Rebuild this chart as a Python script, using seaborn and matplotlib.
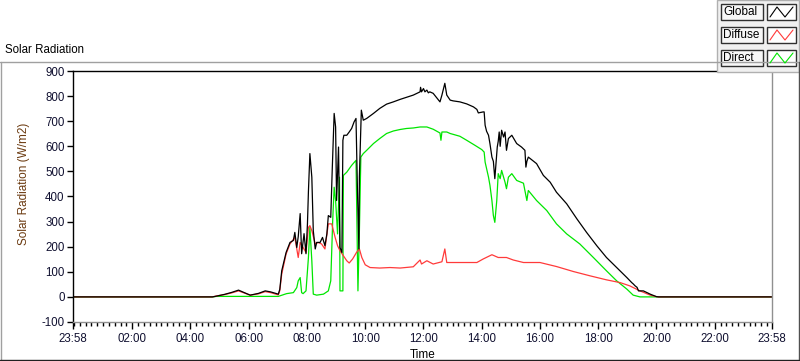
import matplotlib
matplotlib.use("Agg")
import matplotlib.pyplot as plt
from matplotlib.lines import Line2D
from matplotlib.patches import Rectangle
import numpy as np
import pandas as pd
import seaborn as sns

# ---- data ----
global_time = [
    "23:58", "04:45", "04:51", "05:10", "05:25", "05:39", "05:50", "06:03", "06:20", "06:34",
    "06:45", "07:01", "07:04", "07:08", "07:17", "07:25", "07:32", "07:35", "07:39", "07:42",
    "07:46", "07:49", "07:54", "07:58", "08:01", "08:03", "08:06", "08:10", "08:13", "08:17",
    "08:20", "08:27", "08:32", "08:37", "08:41", "08:44", "08:49", "08:52", "08:56", "08:59",
    "09:01", "09:05", "09:08", "09:12", "09:14", "09:16", "09:22", "09:27", "09:32", "09:37",
    "09:41", "09:44", "09:47", "09:48", "09:52", "09:56", "10:03", "10:17", "10:30", "10:44",
    "10:58", "11:12", "11:25", "11:39", "11:53", "11:54", "11:56", "12:00", "12:03", "12:07",
    "12:10", "12:13", "12:20", "12:34", "12:38", "12:44", "12:48", "12:55", "13:01", "13:15",
    "13:29", "13:43", "13:50", "13:53", "14:03", "14:05", "14:07", "14:10", "14:14", "14:17",
    "14:21", "14:24", "14:27", "14:29", "14:32", "14:34", "14:36", "14:38", "14:41", "14:45",
    "14:48", "14:51", "14:55", "15:02", "15:12", "15:22", "15:29", "15:31", "15:33", "15:36",
    "15:53", "16:07", "16:21", "16:34", "16:55", "17:16", "17:36", "17:57", "18:17", "18:38",
    "18:59", "19:09", "19:12", "19:16", "19:20", "19:23", "19:33", "19:47", "20:00", "20:05",
    "23:58",
]
global_value = [
    0, 0, 2, 10, 18, 27, 18, 7, 14, 24,
    20, 11, 30, 104, 177, 217, 225, 257, 197, 240,
    332, 172, 252, 172, 292, 420, 571, 477, 264, 191,
    217, 217, 237, 204, 251, 324, 317, 504, 731, 677,
    384, 597, 197, 177, 624, 644, 644, 657, 671, 697,
    711, 424, 191, 480, 744, 704, 711, 731, 751, 768,
    777, 787, 795, 804, 817, 835, 817, 830, 817, 824,
    813, 817, 811, 777, 804, 851, 804, 784, 781, 777,
    769, 757, 747, 733, 737, 737, 684, 660, 644, 610,
    557, 540, 471, 520, 597, 620, 657, 600, 664, 637,
    657, 584, 631, 644, 611, 597, 584, 517, 540, 557,
    531, 484, 457, 417, 371, 311, 257, 204, 157, 117,
    77, 57, 52, 44, 38, 24, 24, 11, 1, 0,
    0,
]

diffuse_time = [
    "23:58", "04:45", "04:54", "05:10", "05:25", "05:39", "05:50", "06:03", "06:20", "06:34",
    "06:45", "07:01", "07:04", "07:08", "07:17", "07:25", "07:35", "07:42", "07:46", "07:52",
    "07:58", "08:03", "08:06", "08:10", "08:17", "08:23", "08:30", "08:37", "08:44", "08:51",
    "08:58", "09:03", "09:08", "09:15", "09:22", "09:27", "09:34", "09:42", "09:48", "09:53",
    "10:00", "10:10", "10:30", "10:51", "11:12", "11:39", "11:53", "11:56", "12:07", "12:20",
    "12:38", "12:44", "12:48", "13:01", "13:50", "14:03", "14:21", "14:34", "14:51", "15:05",
    "15:26", "16:00", "16:34", "17:09", "17:43", "18:17", "18:45", "19:05", "19:26", "19:47",
    "20:00", "20:05", "23:58",
]
diffuse_value = [
    0, 0, 4, 9, 16, 24, 16, 7, 12, 21,
    17, 8, 25, 91, 171, 211, 237, 157, 217, 197,
    177, 277, 284, 264, 211, 217, 211, 191, 291, 291,
    237, 204, 184, 164, 144, 135, 151, 177, 191, 157,
    128, 117, 115, 117, 115, 120, 147, 131, 144, 131,
    140, 191, 137, 137, 137, 151, 168, 157, 157, 147,
    137, 137, 121, 101, 84, 68, 57, 44, 24, 7,
    1, 0, 0,
]

direct_time = [
    "23:58", "04:45", "04:54", "07:01", "07:04", "07:18", "07:32", "07:39", "07:42", "07:46",
    "07:49", "07:52", "07:58", "08:03", "08:06", "08:10", "08:13", "08:20", "08:34", "08:44",
    "08:49", "08:53", "08:56", "08:59", "09:03", "09:07", "09:08", "09:14", "09:15", "09:22",
    "09:32", "09:41", "09:45", "09:48", "09:51", "09:56", "10:03", "10:17", "10:30", "10:44",
    "10:58", "11:12", "11:25", "11:39", "11:53", "12:07", "12:20", "12:34", "12:36", "12:38",
    "12:48", "12:55", "13:15", "13:29", "13:46", "14:00", "14:05", "14:07", "14:14", "14:17",
    "14:21", "14:24", "14:27", "14:31", "14:34", "14:38", "14:41", "14:48", "14:51", "14:55",
    "15:02", "15:12", "15:26", "15:33", "15:36", "15:53", "16:14", "16:34", "16:55", "17:22",
    "17:50", "18:17", "18:38", "18:59", "19:12", "19:26", "23:58",
]
direct_value = [
    0, 0, 2, 2, 4, 13, 17, 37, 64, 77,
    17, 13, 24, 157, 277, 144, 11, 7, 11, 24,
    64, 304, 437, 384, 251, 477, 24, 24, 484, 497,
    524, 544, 24, 264, 557, 571, 584, 611, 631, 651,
    661, 667, 671, 673, 677, 677, 668, 653, 624, 657,
    657, 651, 640, 624, 604, 587, 577, 537, 477, 444,
    384, 324, 297, 384, 491, 471, 504, 457, 431, 477,
    491, 464, 453, 384, 424, 384, 344, 291, 251, 211,
    157, 104, 64, 31, 7, 0, 0,
]

series_names = ["Global", "Diffuse", "Direct"]
series_colors = {"Global": "#000000", "Diffuse": "#ff3a3a", "Direct": "#00e600"}

y_ticks = [-100, 0, 100, 200, 300, 400, 500, 600, 700, 800, 900]
x_tick_labels = ["23:58", "02:00", "04:00", "06:00", "08:00", "10:00", "12:00",
                 "14:00", "16:00", "18:00", "20:00", "22:00", "23:58"]


def to_hours(stamps):
    hrs = []
    for i, s in enumerate(stamps):
        h, m = s.split(":")
        v = int(h) + int(m) / 60
        # the first 23:58 belongs to the previous day
        if i == 0 and v > 12:
            v -= 24
        hrs.append(v)
    return hrs


frames = []
for name, t, v in [("Global", global_time, global_value),
                   ("Diffuse", diffuse_time, diffuse_value),
                   ("Direct", direct_time, direct_value)]:
    frames.append(pd.DataFrame({"hours": to_hours(t), "value": v, "series": name}))
df = pd.concat(frames, ignore_index=True)

# ---- figure ----
sns.set_style("white")
plt.rcParams["font.family"] = ["Liberation Sans", "DejaVu Sans"]

W, H = 800, 361
fig = plt.figure(figsize=(W / 100, H / 100), dpi=100)
fig.patch.set_facecolor("white")


def fx(x):
    return x / W


def fy(y):
    return 1 - y / H


# outer panel frame
fig.add_artist(Line2D([fx(0), fx(799)], [fy(62), fy(62)], color="#a0a0a0", lw=1.0))
fig.add_artist(Line2D([fx(0.5), fx(0.5)], [fy(62), fy(360)], color="#a0a0a0", lw=1.0))
fig.add_artist(Line2D([fx(799), fx(799)], [fy(62), fy(360)], color="#505050", lw=1.0))
fig.add_artist(Line2D([fx(0), fx(799)], [fy(360), fy(360)], color="#202020", lw=1.0))

x0 = -2 / 60
x1 = 24 - 2 / 60
ax = fig.add_axes([fx(73), fy(322), fx(772) - fx(73), fy(71) - fy(322)])
ax.set_facecolor("white")

sns.lineplot(data=df, x="hours", y="value", hue="series",
             hue_order=["Direct", "Diffuse", "Global"], palette=series_colors,
             estimator=None, sort=False, legend=False, linewidth=0.9, ax=ax)

ax.set_xlim(x0, x1)
ax.set_ylim(-100, 900)
ax.set_xticks([x0] + list(range(2, 24, 2)) + [x1])
ax.set_xticklabels(x_tick_labels)
ax.set_xticks(np.arange(0, 24, 0.2), minor=True)
ax.set_yticks(y_ticks)
ax.set_yticklabels([str(v) for v in y_ticks])
ax.tick_params(axis="both", which="both", bottom=True, left=True, top=False, right=False)
ax.tick_params(axis="both", which="major", direction="out", color="black",
               labelsize=8.3, labelcolor="#101030", width=1.0)
ax.tick_params(axis="x", which="major", length=5, pad=3)
ax.tick_params(axis="y", which="major", length=4, pad=2)
ax.tick_params(axis="x", which="minor", direction="out", length=3, width=1.0, color="black")

for side in ["top", "left"]:
    ax.spines[side].set_color("black")
    ax.spines[side].set_linewidth(1.0)
for side in ["bottom", "right"]:
    ax.spines[side].set_color("#909090")
    ax.spines[side].set_linewidth(1.0)

ax.set_xlabel("Time", fontsize=8.5, color="black", labelpad=3)
ax.set_ylabel("Solar Radiation (W/m2)", fontsize=8.5, color="#6b3a10")
ax.yaxis.set_label_coords((30 - 73) / 699, (322 - 184) / 251)

fig.text(fx(5), fy(50), "Solar Radiation", fontsize=8.3, color="black",
         ha="left", va="center")

# legend panel at top right
fig.add_artist(Rectangle((fx(717), fy(72)), fx(799) - fx(717), fy(0) - fy(72),
                         facecolor="#f0f0f0", edgecolor="#b0b0b0", lw=1.0))
rows = [(4, 20), (27, 43), (50, 66)]
for name, (ytop, ybot) in zip(series_names, rows):
    fig.add_artist(Rectangle((fx(721), fy(ybot)), fx(763) - fx(721), fy(ytop) - fy(ybot),
                             facecolor="#f7f7f7", edgecolor="#303030", lw=1.0))
    fig.text(fx(723.5), fy((ytop + ybot) / 2), name, fontsize=8.5,
             ha="left", va="center", color="black")
    fig.add_artist(Rectangle((fx(767), fy(ybot)), fx(796) - fx(767), fy(ytop) - fy(ybot),
                             facecolor="white", edgecolor="#303030", lw=1.0))
    zx = [770, 777, 785, 793]
    zy = [ybot - 3, ytop + 3, ybot - 3, ytop + 3]
    fig.add_artist(Line2D([fx(v) for v in zx], [fy(v) for v in zy],
                          color=series_colors[name], lw=0.8))

fig.savefig("out.png", dpi=100)
